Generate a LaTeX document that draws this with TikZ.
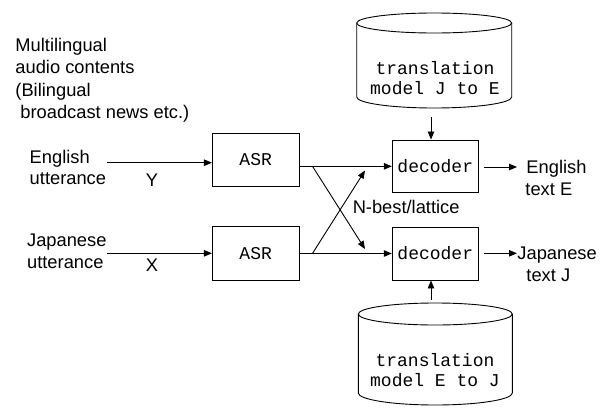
\documentclass[tikz,border=0pt]{standalone}
\usepackage{fontspec}
\setmainfont{Liberation Sans}
\newfontfamily\monofnt{Liberation Mono}
\usetikzlibrary{arrows.meta}
\begin{document}
\begin{tikzpicture}[x=1pt,y=-1pt,line width=0.9pt,
  lbl/.style={anchor=base west, inner sep=0pt, font=\fontsize{18.3}{22}\selectfont},
  clbl/.style={anchor=base, inner sep=0pt, font=\fontsize{18.3}{22}\selectfont},
  mtxt/.style={anchor=base, inner sep=0pt, font=\monofnt\fontsize{18}{20}\selectfont},
  box/.style={draw, inner sep=0pt, font=\monofnt\fontsize{18}{20}\selectfont},
  arr/.style={-{Triangle[length=8pt,width=6.5pt]}},
  cyl/.style={draw}]
\useasboundingbox (0,0) rectangle (606,410);

% left text block
\node[lbl] (m1) at (15,51.5) {Multilingual};
\node[lbl] (m2) at (15,73.8) {audio contents};
\node[lbl] (m3) at (15,96) {(Bilingual};
\node[lbl] (m4) at (20,118.3) {broadcast news etc.)};

% input labels
\node[lbl] (e1) at (29.3,163.3) {English};
\node[lbl] (e2) at (29.3,184.5) {utterance};
\node[lbl] (j1) at (26.7,246.7) {Japanese};
\node[lbl] (j2) at (26.7,268.3) {utterance};
\node[clbl] (Y) at (152,186.7) {Y};
\node[clbl] (X) at (152,271.7) {X};

% boxes
\node[box, minimum width=86.7pt, minimum height=53.4pt] (asr1) at (255.7,160) {ASR};
\node[box, minimum width=86.7pt, minimum height=53.4pt] (asr2) at (255.7,253.3) {ASR};
\node[box, minimum width=86pt, minimum height=52.7pt] (dec1) at (435.3,166.3) {decoder};
\node[box, minimum width=86pt, minimum height=53pt] (dec2) at (435.3,253.5) {decoder};

% input arrows
\coordinate (inE) at (107,162.7);
\coordinate (inJ) at (107,253.3);
\draw[arr] (inE) -- (asr1.west |- inE);
\draw[arr] (inJ) -- (asr2.west |- inJ);

% ASR -> decoder
\draw[arr] (asr1.east |- dec1.west) -- (dec1.west);
\draw[arr] (asr2.east |- dec2.west) -- (dec2.west);

% cross
\coordinate (c1) at (312.5,166.3);
\coordinate (c2) at (312.5,253.4);
\coordinate (t1) at (365,249);
\coordinate (t2) at (365,170.5);
\draw[arr] (c1) -- (t1);
\draw[arr] (c2) -- (t2);
\node[lbl] (nb) at (352.3,213.3) {N-best/lattice};

% outputs
\coordinate (o1s) at (484,167);
\coordinate (o1e) at (517,167);
\coordinate (o2s) at (484,253.3);
\coordinate (o2e) at (517,253.3);
\draw[arr] (o1s) -- (o1e);
\draw[arr] (o2s) -- (o2e);
\node[lbl] (oe1) at (526,173.3) {English};
\node[lbl] (oe2) at (525,195.5) {text E};
\node[lbl] (oj1) at (517,259.3) {Japanese};
\node[lbl] (oj2) at (526,281.5) {text J};

% top cylinder
\draw (434.2,23) ellipse[x radius=77.5pt, y radius=10pt];
\draw (356.7,23) -- (356.7,97) arc[start angle=180, end angle=360, x radius=77.5pt, y radius=11pt] -- (511.7,23);
\node[mtxt] (tjeA) at (435,74) {translation};
\node[mtxt] (tjeB) at (435,94) {model J to E};
\coordinate (tje) at (431,117);
\draw[arr] (tje) -- (dec1.north -| tje);

% bottom cylinder
\draw (435.3,314) ellipse[x radius=77pt, y radius=11pt];
\draw (358.3,314) -- (358.3,393) arc[start angle=180, end angle=360, x radius=77pt, y radius=12pt] -- (512.3,314);
\node[mtxt] (tejA) at (435,366.7) {translation};
\node[mtxt] (tejB) at (435,386.7) {model E to J};
\coordinate (tej) at (431,300);
\draw[arr] (tej) -- (dec2.south -| tej);
\end{tikzpicture}
\end{document}
